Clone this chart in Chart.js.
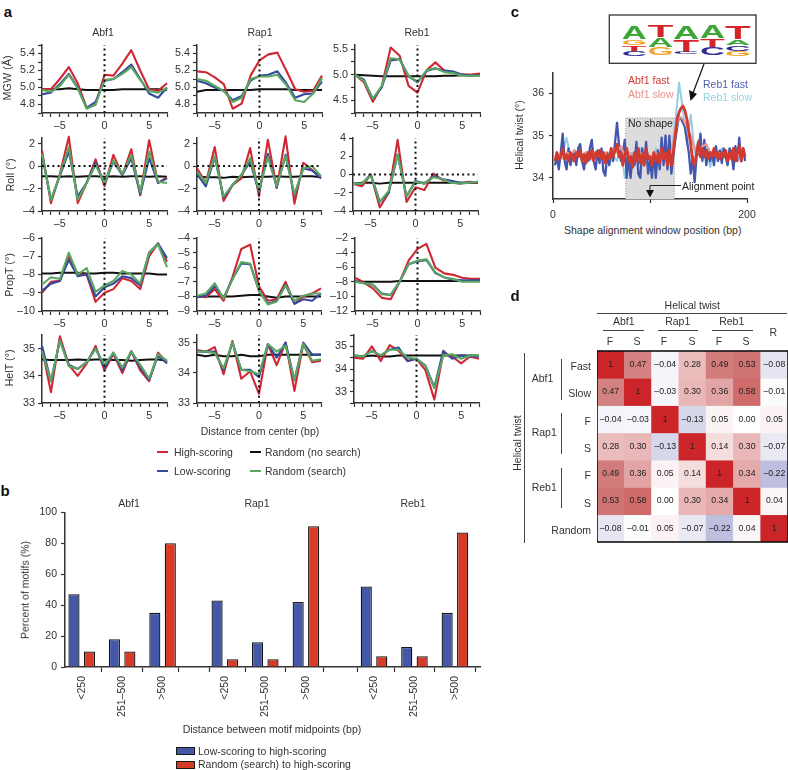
<!DOCTYPE html>
<html><head><meta charset="utf-8">
<style>
html,body{margin:0;padding:0;background:#fff}
#page{position:relative;width:788px;height:770px;overflow:hidden;font-family:"Liberation Sans",Arial,sans-serif;color:#333}
canvas{position:absolute}
.t{position:absolute;white-space:nowrap;line-height:1;font-size:10.5px}
.s{position:absolute}
svg{position:absolute;left:0;top:0}
</style>
<script src="https://cdn.jsdelivr.net/npm/chart.js@4"></script>
</head><body><div id="page"></div>
<script>
// ---------- panel a data ----------
const positions=[-7,-6,-5,-4,-3,-2,-1,0,1,2,3,4,5,6,7];
const mgwAbf1High=[4.98,4.98,5.1,5.24,5.05,4.76,4.8,5.15,5.14,5.28,5.44,5.2,4.98,4.96,5.05];
const mgwAbf1Low=[4.92,4.94,5.04,5.16,5.0,4.76,4.83,5.08,5.1,5.18,5.27,5.1,4.93,4.88,5.0];
const mgwAbf1Search=[4.97,4.95,5.02,5.15,4.99,4.75,4.8,5.09,5.1,5.16,5.24,5.09,4.96,4.94,4.99];
const mgwAbf1None=[4.98,4.98,4.98,4.99,4.98,4.97,4.97,4.97,4.97,4.98,4.98,4.98,4.98,4.98,4.97];
const mgwRap1High=[5.19,5.18,5.12,5.04,4.75,4.81,5.14,5.32,5.39,5.41,5.2,4.98,4.95,4.96,5.14];
const mgwRap1Low=[5.08,5.05,5.0,4.96,4.85,4.9,5.08,5.14,5.15,5.19,5.05,4.88,4.92,4.93,5.07];
const mgwRap1Search=[5.1,5.08,5.02,4.96,4.83,4.88,5.1,5.13,5.13,5.15,5.03,4.85,4.83,4.93,5.11];
const mgwRap1None=[4.95,4.97,4.97,4.97,4.97,4.97,4.97,4.98,4.98,4.98,4.98,4.97,4.97,4.97,4.97];
const mgwReb1High=[5.0,4.85,4.47,4.78,5.53,5.37,4.78,4.65,5.08,5.24,5.08,5.05,5.0,5.0,5.02];
const mgwReb1Low=[5.0,4.9,4.52,4.75,5.28,5.3,4.97,4.85,5.07,5.12,5.08,5.06,5.0,4.98,4.99];
const mgwReb1Search=[5.0,4.88,4.53,4.78,5.32,5.3,4.98,4.86,5.08,5.13,5.05,5.03,4.98,4.98,4.98];
const mgwReb1None=[5.0,4.99,4.98,4.97,4.97,4.97,4.97,4.97,4.97,4.97,4.98,4.98,4.99,4.99,4.99];

const rollAbf1High=[1.4,-3.3,-0.7,2.6,-3.3,-1.5,0.6,-1.8,1.0,-0.8,1.5,-2.6,2.3,-1.5,-1.0];
const rollAbf1Low=[1.0,-3.0,-0.9,1.3,-2.7,-1.5,0.3,-1.6,0.4,-0.8,0.7,-2.5,0.7,-1.5,-1.1];
const rollAbf1Search=[1.1,-3.0,-0.8,1.7,-3.0,-1.5,0.1,-1.5,0.5,-0.7,1.0,-2.3,1.3,-1.4,-1.5];
const rollAbf1None=[-0.9,-0.9,-0.95,-0.9,-0.95,-0.9,-0.9,-0.95,-0.9,-0.95,-0.9,-0.9,-0.95,-0.9,-0.95];
const rollRap1High=[-0.2,-1.5,1.7,-3.1,-1.7,-1.1,1.6,-2.7,2.35,-1.95,2.65,-3.35,0.3,-0.35,-1.05];
const rollRap1Low=[-0.7,-1.8,0.8,-2.8,-1.7,-0.8,0.4,-2.3,1.1,-1.9,1.0,-2.6,-0.2,-0.4,-1.1];
const rollRap1Search=[-0.5,-1.5,0.9,-2.7,-1.7,-0.8,0.7,-2.2,0.8,-1.8,0.9,-2.5,-0.2,0.0,-0.9];
const rollRap1None=[-0.9,-1.0,-1.0,-1.05,-0.95,-1.0,-0.95,-0.95,-0.95,-0.9,-0.95,-0.95,-0.9,-0.9,-1.0];
const rollReb1High=[-1.0,-1.3,0.0,-3.6,-2.0,3.8,-3.0,-1.4,-1.7,0.1,-0.6,-0.8,-1.0,-0.8,-0.9];
const rollReb1Low=[-1.0,-1.0,0.0,-3.0,-2.0,2.2,-2.4,-0.7,-1.0,-0.2,-0.5,-0.7,-0.9,-0.9,-0.8];
const rollReb1Search=[-1.0,-1.0,-0.1,-3.0,-1.8,2.2,-2.4,-0.8,-1.0,-0.3,-0.5,-0.9,-1.0,-0.9,-0.8];
const rollReb1None=[-1.0,-0.9,-0.9,-1.0,-0.9,-0.9,-0.9,-0.9,-0.9,-0.9,-0.9,-0.9,-0.9,-0.9,-0.9];

const propAbf1High=[-9.0,-8.4,-8.35,-7.0,-8.0,-8.0,-9.5,-9.0,-8.8,-8.2,-8.35,-8.8,-7.0,-6.3,-7.3];
const propAbf1Low=[-8.9,-8.5,-8.35,-7.2,-8.1,-8.0,-9.2,-8.7,-8.5,-8.1,-8.2,-8.6,-6.8,-6.3,-7.1];
const propAbf1Search=[-8.55,-8.15,-8.25,-6.8,-8.0,-7.65,-8.95,-8.6,-8.35,-7.8,-8.0,-8.5,-6.8,-6.35,-7.6];
const propAbf1None=[-7.95,-7.95,-7.9,-7.9,-7.9,-7.95,-7.95,-7.9,-7.9,-7.95,-7.95,-7.95,-7.95,-8.0,-8.0];
const propRap1High=[-8.0,-8.05,-7.5,-8.3,-6.7,-4.75,-4.45,-7.3,-8.3,-8.2,-7.0,-8.5,-8.0,-7.8,-7.45];
const propRap1Low=[-8.05,-7.95,-7.3,-8.1,-6.8,-5.75,-5.8,-7.6,-8.5,-8.3,-7.2,-8.5,-8.2,-8.3,-7.8];
const propRap1Search=[-7.95,-7.8,-7.1,-8.15,-6.85,-5.65,-5.75,-7.6,-8.55,-8.35,-7.25,-8.3,-7.95,-7.8,-7.8];
const propRap1None=[-8.0,-8.0,-8.0,-8.0,-8.0,-7.95,-7.9,-7.9,-8.0,-8.1,-8.0,-8.0,-8.0,-8.0,-8.0];
const propReb1High=[-7.45,-8.1,-8.9,-10.2,-10.4,-8.0,-5.1,-3.5,-2.8,-6.05,-6.85,-7.05,-7.45,-7.6,-7.6];
const propReb1Low=[-7.9,-8.2,-8.4,-9.6,-9.8,-8.0,-5.6,-5.2,-5.0,-6.8,-7.4,-7.7,-7.8,-7.8,-7.8];
const propReb1Search=[-8.0,-8.2,-8.4,-9.7,-9.8,-8.0,-5.6,-5.1,-4.9,-6.7,-7.4,-7.6,-8.0,-8.0,-8.0];
const propReb1None=[-8.0,-8.0,-8.0,-8.0,-8.0,-7.9,-7.9,-7.9,-7.9,-7.9,-7.9,-7.9,-7.9,-7.9,-7.9];

const helAbf1High=[35.0,33.4,35.45,34.4,34.0,34.45,35.1,34.2,34.8,34.1,34.9,34.2,33.8,34.85,34.5];
const helAbf1Low=[35.1,33.8,35.3,34.4,34.25,34.5,35.0,34.3,34.85,34.2,34.9,34.3,33.85,34.75,34.45];
const helAbf1Search=[34.9,33.8,35.3,34.35,34.25,34.5,35.0,34.4,34.85,34.3,34.9,34.4,33.9,34.8,34.55];
const helAbf1None=[34.6,34.58,34.58,34.58,34.6,34.58,34.6,34.6,34.58,34.58,34.55,34.58,34.6,34.6,34.55];
const helRap1High=[34.75,34.7,34.85,33.95,35.05,33.8,34.05,33.3,34.95,34.25,35.0,33.4,34.95,34.35,34.4];
const helRap1Low=[34.7,34.7,34.7,34.1,35.0,34.1,34.1,33.85,34.95,34.5,35.0,33.75,35.0,34.6,34.6];
const helRap1Search=[34.7,34.7,34.65,34.15,35.0,34.1,34.05,33.95,34.95,34.7,34.9,33.75,34.95,34.4,34.45];
const helRap1None=[34.6,34.55,34.6,34.55,34.55,34.6,34.55,34.55,34.6,34.6,34.6,34.6,34.6,34.6,34.6];
const helReb1High=[34.5,34.45,35.0,34.35,35.05,34.8,34.35,34.45,33.95,32.65,34.7,34.55,34.25,34.55,34.45];
const helReb1Low=[34.6,34.55,34.8,34.6,34.85,34.95,34.35,34.45,34.15,33.2,34.8,34.45,34.6,34.55,34.55];
const helReb1Search=[34.6,34.55,34.8,34.6,34.85,34.85,34.5,34.45,34.15,33.15,34.6,34.65,34.45,34.6,34.6];
const helReb1None=[34.55,34.55,34.6,34.55,34.55,34.6,34.6,34.6,34.6,34.6,34.6,34.6,34.6,34.6,34.6];

// ---------- panel b data ----------
const distanceBins=["<250","251–500",">500","<250","251–500",">500","<250","251–500",">500"];
const binPositions=[0,1,2,3.54,4.54,5.545,7.23,8.23,9.23];
const groupBreaks=[2.765,6.43];
const lowToHigh=[47,18,35,43,16,42,52,13,35];
const randomToHigh=[10,10,80,5,5,91,7,7,87];

// ---------- panel c data (sampled every 2 bp / 4 bp) ----------
const reb1Fast=[34.3,34.5,34.2,34.6,35.05,34.4,34.2,34.7,34.3,34.5,34.65,34.3,34.7,34.8,34.4,34.2,34.6,34.4,34.7,34.9,34.4,34.2,34.65,34.35,34.7,34.15,34.05,34.6,34.3,34.7,34.4,34.85,35.3,34.8,34.4,34.6,34.9,34.0,34.5,34.0,34.55,34.3,34.85,34.1,34.0,34.7,34.3,34.85,34.1,34.4,34.0,34.6,34.0,34.65,34.2,34.95,34.3,35.0,34.2,35.0,34.1,34.5,34.9,35.2,35.45,35.4,35.3,35.2,34.9,34.6,34.1,34.5,33.9,34.5,34.6,35.05,34.4,34.9,34.3,34.7,34.4,34.6,34.3,34.75,34.4,34.65,34.35,34.7,34.5,34.3,34.7,34.6,34.2,34.75,34.4,34.95,34.4,34.7,34.4];
const abf1Fast=[34.4,34.6,34.45,34.5,34.7,34.45,34.55,34.4,34.6,34.5,34.4,34.6,34.5,34.65,34.4,34.55,34.35,34.6,34.45,34.65,34.4,34.6,34.5,34.65,34.45,34.6,34.35,34.55,34.45,34.7,34.5,34.65,34.8,34.5,34.6,34.3,34.55,34.7,34.4,34.5,34.25,34.6,34.4,34.7,34.35,34.55,34.3,34.7,34.45,34.5,34.3,34.6,34.4,34.55,34.35,34.7,34.45,34.6,34.3,34.65,34.3,34.6,35.0,35.4,35.55,35.65,35.7,35.6,35.4,35.1,34.8,34.4,34.3,34.6,34.85,34.5,34.7,34.5,34.65,34.45,34.6,34.5,34.7,34.5,34.6,34.45,34.6,34.5,34.65,34.4,34.6,34.45,34.7,34.4,34.6,34.75,34.4,34.7,34.5];
const reb1Slow=[34.4,34.55,34.6,34.95,34.5,34.4,34.65,34.5,34.6,34.4,34.55,34.65,34.45,34.6,34.3,34.55,34.4,34.7,34.0,34.5,34.6,34.4,34.7,34.5,34.6,34.3,34.7,34.5,34.6,34.4,34.6,35.3,36.25,35.6,34.8,35.5,34.6,34.9,34.5,34.7,34.25,34.6,34.5,34.7,34.5,34.6,34.4,34.6,34.5,34.6];
const abf1Slow=[34.5,34.55,34.45,34.6,34.55,34.65,34.5,34.55,34.6,34.5,34.6,34.55,34.5,34.6,34.5,34.65,34.6,34.75,34.5,34.6,34.55,34.45,34.6,34.5,34.55,34.5,34.6,34.45,34.55,34.5,34.6,35.1,35.45,35.4,35.2,35.0,34.7,34.6,34.75,34.8,34.6,34.55,34.6,34.55,34.6,34.5,34.6,34.5,34.6,34.55];
const noShapeBp=[75,125];
const noShapeTop=35.42;

// ---------- panel d data ----------
const colHeads=["F","S","F","S","F","S","R"];
const corrRows=[
 [1,0.47,-0.04,0.28,0.49,0.53,-0.08],
 [0.47,1,-0.03,0.30,0.36,0.58,-0.01],
 [-0.04,-0.03,1,-0.13,0.05,0.00,0.05],
 [0.28,0.30,-0.13,1,0.14,0.30,-0.07],
 [0.49,0.36,0.05,0.14,1,0.34,-0.22],
 [0.53,0.58,0.00,0.30,0.34,1,0.04],
 [-0.08,-0.01,0.05,-0.07,-0.22,0.04,1]];

// ---------- helpers ----------
const page=document.getElementById('page');
Chart.defaults.font.family='"Liberation Sans",Arial,sans-serif';
Chart.defaults.font.size=10.5;
Chart.defaults.color='#333';
Chart.defaults.animation=false;
Chart.defaults.devicePixelRatio=1;
Chart.defaults.plugins.legend.display=false;
Chart.defaults.plugins.tooltip.enabled=false;
const INK='#333';
const RED='#cf2733',BLUE='#35499f',GREEN='#5aa860',BLACK='#111';
const dash=v=>(v<0?'–':'')+Math.abs(v);
function label(text,x,y,o={}){
  const d=document.createElement('div');d.className='t';d.textContent=text;
  d.style.left=x+'px';d.style.top=y+'px';
  const ax=o.anchor==='l'?'0':o.anchor==='r'?'-100%':'-50%';
  d.style.transform=`translate(${ax},-50%)`+(o.rot?` rotate(${o.rot}deg)`:'');
  if(o.size)d.style.fontSize=o.size+'px';
  if(o.color)d.style.color=o.color;
  if(o.bold)d.style.fontWeight='bold';
  page.appendChild(d);
}
function rule(x,y,w,h,c){
  const d=document.createElement('div');d.className='s';
  d.style.cssText+=`left:${x}px;top:${y}px;width:${w}px;height:${h}px;background:${c||'#444'}`;
  page.appendChild(d);return d;
}
function makeChart(r,L,B,cfg,R=24,T=10){
  const c=document.createElement('canvas');
  const W=Math.round(r.x1-r.x0),H=Math.round(r.y1-r.y0);
  c.width=W+L+R;c.height=H+T+B;
  c.style.left=(r.x0-L)+'px';c.style.top=(r.y0-T)+'px';
  c.style.width=c.width+'px';c.style.height=c.height+'px';
  page.appendChild(c);
  cfg.options=cfg.options||{};
  cfg.options.responsive=false;cfg.options.maintainAspectRatio=false;
  const p=cfg.options.layout&&cfg.options.layout.padding;
  cfg.options.layout={padding:p||{top:T,right:R,left:0,bottom:0}};
  const s=cfg.options.scales;
  if(s.x&&s.x.display!==false)s.x.afterFit=a=>{a.height=B;};
  if(s.y&&s.y.display!==false)s.y.afterFit=a=>{a.width=L;};
  return new Chart(c,cfg);
}
function axisBase(tickLen){
  return {grid:{display:true,drawOnChartArea:false,drawTicks:true,tickLength:tickLen||4,tickWidth:1.2,tickColor:INK},
          border:{display:true,color:INK,width:1.5}};
}
function explicit(list){return a=>{a.ticks=list.map(v=>({value:v}));};}
const pts=(xs,ys)=>ys.map((y,i)=>({x:xs[i],y}));
const lineDs=(data,color,w)=>({data,borderColor:color,borderWidth:w,pointRadius:0,tension:0,clip:false,fill:false,borderJoinStyle:'round'});
const dots=(data)=>({data,borderColor:'#111',borderWidth:2,borderDash:[2,3.2],pointRadius:0,clip:false,fill:false});
const xTicksA=positions.slice();
function shapePanel(r,min,max,yTicks,yLabels,fmt,high,low,search,none,hZero){
  const ds=[];
  ds.push(dots([{x:0,y:min},{x:0,y:max}]));
  if(hZero)ds.push(dots([{x:-7,y:0},{x:7,y:0}]));
  ds.push(lineDs(pts(positions,search),GREEN,2.1));
  ds.push(lineDs(pts(positions,low),BLUE,2.1));
  ds.push(lineDs(pts(positions,high),RED,2.1));
  ds.push(lineDs(pts(positions,none),BLACK,2));
  const xa=axisBase(4),ya=axisBase(4);
  return makeChart(r,34,22,{type:'line',data:{datasets:ds},options:{scales:{
    x:Object.assign(xa,{type:'linear',min:-7,max:7,afterBuildTicks:explicit(xTicksA),
      ticks:{autoSkip:false,maxRotation:0,padding:3,font:{size:10.8},callback:v=>v%5===0?dash(v):''}}),
    y:Object.assign(ya,{type:'linear',min,max,afterBuildTicks:explicit(yTicks),
      ticks:{autoSkip:false,padding:3,font:{size:10.8},callback:v=>yLabels.includes(v)?fmt(v):''}})
  }}});
}
const f1=v=>v.toFixed(1);
const X1={x0:41.7,x1:166.3},X2={x0:197.3,x1:322.3},X3={x0:354.7,x1:479.7};

// ---------- panel a ----------
const R1={y0:45,y1:112.7},R2={y0:138.3,y1:211.3},R3={y0:238.3,y1:311},R4={y0:335,y1:402.7};
const mgwTicks=[4.7,4.8,4.9,5.0,5.1,5.2,5.3,5.4,5.5],mgwLabels=[4.8,5.0,5.2,5.4];
shapePanel({...X1,...R1},4.7,5.5,mgwTicks,mgwLabels,f1,mgwAbf1High,mgwAbf1Low,mgwAbf1Search,mgwAbf1None);
shapePanel({...X2,...R1},4.7,5.5,mgwTicks,mgwLabels,f1,mgwRap1High,mgwRap1Low,mgwRap1Search,mgwRap1None);
shapePanel({...X3,...R1},4.25,5.58,[4.25,4.5,4.75,5,5.25,5.5],[4.5,5,5.5],f1,mgwReb1High,mgwReb1Low,mgwReb1Search,mgwReb1None);
shapePanel({...X1,...R2},-4,2.5,[-4,-2,0,2],[-4,-2,0,2],dash,rollAbf1High,rollAbf1Low,rollAbf1Search,rollAbf1None,true);
shapePanel({x0:197.3,x1:321.7,...R2},-4,2.5,[-4,-2,0,2],[-4,-2,0,2],dash,rollRap1High,rollRap1Low,rollRap1Search,rollRap1None,true);
shapePanel({x0:352.7,x1:477.7,...R2},-4,4,[-4,-2,0,2,4],[-4,-2,0,2,4],dash,rollReb1High,rollReb1Low,rollReb1Search,rollReb1None,true);
shapePanel({...X1,...R3},-10,-6,[-10,-9,-8,-7,-6],[-10,-9,-8,-7,-6],dash,propAbf1High,propAbf1Low,propAbf1Search,propAbf1None);
shapePanel({x0:197.3,x1:321.7,...R3},-9,-4,[-9,-8,-7,-6,-5,-4],[-9,-8,-7,-6,-5,-4],dash,propRap1High,propRap1Low,propRap1Search,propRap1None);
shapePanel({...X3,...R3},-12,-2,[-12,-10,-8,-6,-4,-2],[-12,-10,-8,-6,-4,-2],dash,propReb1High,propReb1Low,propReb1Search,propReb1None);
shapePanel({...X1,...R4},33,35.5,[33,34,35],[33,34,35],dash,helAbf1High,helAbf1Low,helAbf1Search,helAbf1None);
shapePanel({x0:197.3,x1:321.7,...R4},33,35.25,[33,34,35],[33,34,35],dash,helRap1High,helRap1Low,helRap1Search,helRap1None);
shapePanel({x0:353.7,x1:478.7,...R4},32.5,35.5,[32.5,33,33.5,34,34.5,35,35.5],[33,34,35],dash,helReb1High,helReb1Low,helReb1Search,helReb1None);

label('a',8,11,{size:15,bold:true,color:'#111'});
label('b',5,490,{size:15,bold:true,color:'#111'});
label('c',515,11,{size:15,bold:true,color:'#111'});
label('d',515,295,{size:15,bold:true,color:'#111'});
label('Abf1',103,32);label('Rap1',260,32);label('Reb1',417,32);
label('MGW (Å)',7,78,{rot:-90,size:10.8});label('Roll (°)',10,175,{rot:-90,size:10.8});
label('PropT (°)',8.5,275,{rot:-90,size:10.8});label('HelT (°)',8.5,368,{rot:-90,size:10.8});
label('Distance from center (bp)',260,431);
rule(157,451.3,11,1.6,RED);label('High-scoring',174,452,{anchor:'l'});
rule(250,451.3,11,1.8,BLACK);label('Random (no search)',265,452,{anchor:'l'});
rule(157,470.3,11,1.6,BLUE);label('Low-scoring',174,471,{anchor:'l'});
rule(250,470.3,11,1.6,GREEN);label('Random (search)',265,471,{anchor:'l'});

// ---------- panel b ----------
{
  const ticks=binPositions.concat(groupBreaks).sort((a,b)=>a-b);
  const labelFor=v=>{const i=binPositions.indexOf(v);return i<0?'':distanceBins[i];};
  const xa=axisBase(5),ya=axisBase(4);
  const barStyle=(data,color)=>({data,backgroundColor:color,borderColor:'#151515',borderWidth:1.3,categoryPercentage:1,barPercentage:0.72});
  makeChart({x0:65.3,x1:480,y0:512.3,y1:667.7},40,70,{type:'bar',data:{datasets:[
    barStyle(pts(binPositions,lowToHigh),'#4458a7'),
    barStyle(pts(binPositions,randomToHigh),'#d73a27')]},
    options:{scales:{
      x:Object.assign(xa,{type:'linear',offset:false,min:-0.413,max:9.851,afterBuildTicks:explicit(ticks),
        ticks:{autoSkip:false,minRotation:90,maxRotation:90,padding:4,callback:labelFor}}),
      y:Object.assign(ya,{type:'linear',min:0,max:100,afterBuildTicks:explicit([0,20,40,60,80,100]),
        ticks:{autoSkip:false,padding:4}})
    }}});
  label('Abf1',129,503);label('Rap1',257,503);label('Reb1',413,503);
  label('Percent of motifs (%)',25,590,{rot:-90});
  label('Distance between motif midpoints (bp)',272,729);
  for(const [y,c,t] of [[750.5,'#4458a7','Low-scoring to high-scoring'],[764,'#d73a27','Random (search) to high-scoring']]){
    const s=rule(176,y-3.5,16.5,6,c);s.style.border='1px solid #151515';
    label(t,198,y,{anchor:'l'});
  }
}

// ---------- panel c ----------
{
  const xs2=reb1Fast.map((_,i)=>2+2*i),xs4=reb1Slow.map((_,i)=>2+4*i);
  const xa=axisBase(4),ya=axisBase(4);
  const box={data:[{x:noShapeBp[0],y:33.5},{x:noShapeBp[0],y:noShapeTop},{x:noShapeBp[1],y:noShapeTop},{x:noShapeBp[1],y:33.5}],
    borderColor:'#8a8a8a',borderWidth:1,borderDash:[1,1.5],pointRadius:0,fill:'start',backgroundColor:'#dcdcdc',tension:0};
  makeChart({x0:553,x1:747.3,y0:70.7,y1:199},24,22,{type:'line',data:{datasets:[
    lineDs(pts(xs2,abf1Fast),'#d2392f',2.8),
    lineDs(pts(xs4,abf1Slow),'#e79a96',2.2),
    lineDs(pts(xs2,reb1Fast),'#4257ad',2.3),
    lineDs(pts(xs4,reb1Slow),'#92d0e2',2),
    box
  ]},options:{scales:{
    x:Object.assign(xa,{type:'linear',min:0,max:200,afterBuildTicks:explicit([0,100,200]),
      ticks:{autoSkip:false,maxRotation:0,padding:6,callback:v=>v===100?'':String(v)}}),
    y:Object.assign(ya,{type:'linear',min:33.5,max:36.5,afterBuildTicks:explicit([34,35,36]),
      ticks:{autoSkip:false,padding:5}})
  }}},30);
  label('No shape',628,122.7,{anchor:'l',size:10.5,color:'#222'});
  label('Abf1 fast',628,80,{anchor:'l',color:'#cf3a32'});
  label('Abf1 slow',628,93.5,{anchor:'l',color:'#e8928d'});
  label('Reb1 fast',703,84,{anchor:'l',color:'#4f60ad'});
  label('Reb1 slow',703,97,{anchor:'l',color:'#93d2e3'});
  label('Alignment point',682,185.5,{anchor:'l',color:'#222'});
  label('Shape alignment window position (bp)',652.7,230);
  label('Helical twist (°)',519,135,{rot:-90});
}
// logo and arrows
{
  const NS='http://www.w3.org/2000/svg';
  const svg=document.createElementNS(NS,'svg');svg.setAttribute('width',788);svg.setAttribute('height',770);
  const C={A:['#3da636',7.22],T:['#d6242b',6.11],G:['#f2a32a',7.78],C:['#2b2b90',7.22]};
  const stacks=[
    [621.7,646.7,[['A',25.7,39.3],['G',40,45],['T',45.7,50.7],['C',51,55.7]]],
    [647.7,673.3,[['T',25.7,37.3],['A',37.7,47.3],['G',47.7,55]]],
    [673.3,699.3,[['A',25.7,39.3],['T',40,51.7],['C',52.3,54.3]]],
    [700,725,[['A',25.7,38.3],['T',39,47.3],['C',47.7,55]]],
    [725,750.7,[['T',25.7,39.3],['A',40,45],['C',45.7,50.7],['G',51,55.7]]]];
  let h='<rect x="609.3" y="15" width="146.7" height="48.3" fill="#fff" stroke="#333" stroke-width="1.3"/>';
  for(const [x0,x1,list] of stacks)for(const [l,y0,y1] of list){
    const sx=(x1-x0)/C[l][1],sy=(y1-y0)/7.16;
    h+=`<text transform="translate(${x0},${y1}) scale(${sx},${sy})" font-family="Liberation Sans" font-weight="bold" font-size="10" fill="${C[l][0]}">${l}</text>`;
  }
  h+='<path d="M704 64 L693 93" stroke="#111" stroke-width="1.2" fill="none"/><path d="M689 90 L697 94 L690.5 101 Z" fill="#111"/>';
  h+='<path d="M681 185.5 H650 V191" stroke="#222" stroke-width="1" fill="none"/><path d="M646 190 H654 L650 197.5 Z" fill="#111"/>';
  svg.innerHTML=h;page.appendChild(svg);
}

// ---------- panel d ----------
{
  const mix=(a,b,t)=>a.map((v,i)=>Math.round(v+(b[i]-v)*t));
  function cellColor(v){
    const stops=v>=0?[[0,[255,255,255]],[0.3,[233,183,183]],[0.5,[208,120,120]],[1,[204,37,41]]]
                    :[[0,[255,255,255]],[0.13,[215,215,235]],[0.22,[190,190,222]],[1,[120,120,190]]];
    const a=Math.abs(v);
    for(let i=1;i<stops.length;i++)if(a<=stops[i][0]){
      const t=(a-stops[i-1][0])/(stops[i][0]-stops[i-1][0]);
      return `rgb(${mix(stops[i-1][1],stops[i][1],t).join(',')})`;
    }
    return 'rgb(204,37,41)';
  }
  const fmt=v=>v===1?'1':(v<0?'–':'')+Math.abs(v).toFixed(2);
  const cells={id:'cells',afterDatasetsDraw(ch){
    const c=ch.ctx;c.save();c.font='8.7px "Liberation Sans"';c.fillStyle='#222';c.textAlign='center';c.textBaseline='middle';
    corrRows.forEach((row,i)=>{ch.getDatasetMeta(i).data.forEach((b,j)=>{
      c.fillText(fmt(row[j]),b.x,(b.y+b.base)/2);
    });});
    const a=ch.chartArea;c.strokeStyle='#111';c.lineWidth=1.6;c.strokeRect(a.left,a.top,a.right-a.left,a.bottom-a.top);
    c.restore();
  }};
  makeChart({x0:596.7,x1:787.7,y0:352.3,y1:543.3},0,0,{type:'bar',plugins:[cells],data:{labels:colHeads,
    datasets:corrRows.map(row=>({data:row.map(()=>1),backgroundColor:row.map(cellColor),borderWidth:0,categoryPercentage:1,barPercentage:1}))},
    options:{layout:{padding:{left:0,top:1,right:0,bottom:1}},scales:{
      x:{display:false,stacked:true},
      y:{display:false,stacked:true,min:0,max:7,reverse:true}
    }}},0,2);
  label('Helical twist',692.3,305);
  rule(596.7,313,190,1);
  label('Abf1',623.7,321);label('Rap1',677.7,321);label('Reb1',731.7,321);
  rule(603,329.7,41,1);rule(657.7,329.7,40.5,1);rule(712,329.7,40.5,1);
  const hx=[610,637,664,692,719,746];
  hx.forEach((x,i)=>label(colHeads[i],x,341));
  label('R',773.3,331.7);
  const yr=i=>366+27.3*i;
  ['Fast','Slow','F','S','F','S','Random'].forEach((t,i)=>label(t,591,yr(i),{anchor:'r'}));
  label('Abf1',531.7,378.3,{anchor:'l'});label('Rap1',531.7,432,{anchor:'l'});label('Reb1',531.7,486.7,{anchor:'l'});
  rule(560.5,359.3,1.2,40.7);rule(560.5,413.3,1.2,40.7);rule(560.5,467.7,1.2,40.7);
  rule(524,353.3,1.2,189.4);
  label('Helical twist',516.7,443,{rot:-90});
}
</script></body></html>
